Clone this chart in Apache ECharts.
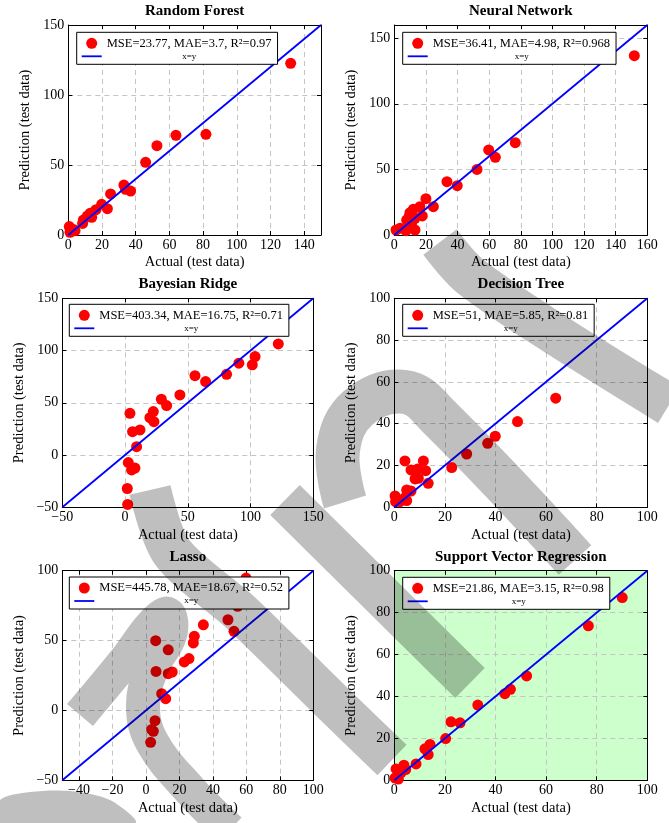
<!DOCTYPE html>
<html><head><meta charset="utf-8">
<script src="https://cdn.jsdelivr.net/npm/echarts@6/dist/echarts.min.js"></script>
<style>html,body{margin:0;padding:0;background:#fff}#c{width:669px;height:823px}</style>
</head><body><div id="c"></div>
<script>
// ---------- data ----------
const titles = ['Random Forest', 'Neural Network', 'Bayesian Ridge', 'Decision Tree', 'Lasso', 'Support Vector Regression'];
const metricLabels = [
  'MSE=23.77, MAE=3.7, R²=0.97',
  'MSE=36.41, MAE=4.98, R²=0.968',
  'MSE=403.34, MAE=16.75, R²=0.71',
  'MSE=51, MAE=5.85, R²=0.81',
  'MSE=445.78, MAE=18.67, R²=0.52',
  'MSE=21.86, MAE=3.15, R²=0.98'
];
const lineLabel = 'x=y';
const xLabel = 'Actual (test data)';
const yLabel = 'Prediction (test data)';

const rfActual = [132.0, 81.7, 63.9, 52.6, 45.9, 33.0, 34.0, 37.0, 25.1, 23.2, 19.8, 16.4, 12.9, 11.3, 13.9, 8.9, 8.5, 0.6, 3.0, 1.0, 4.0];
const rfPredicted = [122.6, 71.9, 71.2, 63.8, 51.9, 35.7, 32.6, 31.4, 29.3, 18.8, 21.9, 18.1, 15.5, 13.6, 12.6, 10.7, 8.3, 6.0, 4.0, 1.9, 3.1];

const nnActual = [151.8, 76.5, 59.7, 63.9, 52.3, 33.3, 39.8, 20.0, 24.7, 16.2, 12.0, 9.9, 9.3, 17.7, 13.1, 11.0, 7.8, 13.1, 7.4, 3.6, 1.1];
const nnPredicted = [136.6, 70.3, 64.8, 59.2, 50.0, 40.6, 37.6, 27.7, 21.6, 21.6, 19.6, 17.0, 14.0, 14.5, 12.7, 9.4, 11.4, 3.8, 3.3, 5.1, 3.8];

const brActual = [122.1, 103.6, 101.4, 90.7, 80.9, 64.2, 55.7, 43.7, 33.1, 28.9, 22.5, 19.8, 23.0, 3.9, 6.0, 11.9, 9.2, 2.6, 5.2, 7.9, 1.8, 2.1];
const brPredicted = [106.3, 94.2, 86.3, 87.9, 77.3, 70.3, 76.0, 57.5, 47.3, 53.4, 41.6, 35.8, 31.9, 39.9, 22.4, 24.0, 8.0, -7.2, -14.2, -12.5, -32.0, -47.3];

const dtActual = [63.8, 48.7, 39.9, 36.9, 28.6, 22.7, 4.2, 11.5, 6.6, 9.2, 12.4, 8.2, 9.5, 13.4, 4.9, 6.6, 4.9, 0.3, 0.5, 2.2, 4.2];
const dtPredicted = [52.2, 41.0, 34.0, 30.6, 25.5, 19.0, 22.2, 22.2, 17.9, 18.3, 17.5, 13.6, 13.9, 11.5, 8.3, 7.8, 3.2, 5.4, 2.7, 2.7, 4.6];

const lassoActual = [59.8, 54.8, 49.0, 52.6, 34.3, 28.9, 28.3, 25.7, 22.9, 15.7, 13.3, 13.3, 5.8, 6.0, 9.4, 11.8, 5.4, 3.4, 4.4, 2.8];
const lassoPredicted = [94.7, 74.5, 64.9, 56.6, 61.3, 53.0, 48.3, 37.1, 34.7, 27.5, 26.3, 43.4, 49.9, 27.9, 12.0, 8.4, -7.3, -13.7, -14.9, -22.8];

const svrActual = [90.1, 76.7, 52.3, 45.9, 43.7, 33.0, 26.0, 22.4, 20.3, 14.1, 12.1, 13.4, 8.6, 3.8, 4.5, 0.7, 2.6, 0.3, 1.6];
const svrPredicted = [87.2, 73.7, 49.8, 43.4, 41.3, 35.9, 27.4, 27.9, 19.9, 17.1, 15.0, 12.3, 7.8, 7.2, 5.1, 5.4, 3.5, 1.1, 0.6];

const xRanges = [[0, 150], [0, 160], [-50, 150], [0, 100], [-50, 100], [0, 100]];
const yRanges = [[0, 150], [0, 160], [-50, 150], [0, 100], [-50, 100], [0, 100]];
const xTicks = [
  [0, 20, 40, 60, 80, 100, 120, 140],
  [0, 20, 40, 60, 80, 100, 120, 140, 160],
  [-50, 0, 50, 100, 150],
  [0, 20, 40, 60, 80, 100],
  [-40, -20, 0, 20, 40, 60, 80, 100],
  [0, 20, 40, 60, 80, 100]
];
const yTicks = [
  [0, 50, 100, 150],
  [0, 50, 100, 150],
  [-50, 0, 50, 100, 150],
  [0, 20, 40, 60, 80, 100],
  [-50, 0, 50, 100],
  [0, 20, 40, 60, 80, 100]
];
const actualSets = [rfActual, nnActual, brActual, dtActual, lassoActual, svrActual];
const predictedSets = [rfPredicted, nnPredicted, brPredicted, dtPredicted, lassoPredicted, svrPredicted];

// ---------- layout / style ----------
const gridRects = [
  {left: 68.3, top: 25, width: 252.7, height: 210},
  {left: 394.3, top: 25, width: 253, height: 210},
  {left: 62.3, top: 298.3, width: 251, height: 209},
  {left: 394.3, top: 298.3, width: 253, height: 209},
  {left: 62.3, top: 570.7, width: 251, height: 209.6},
  {left: 394.3, top: 570.7, width: 253, height: 209.6}
];
const legendPos = [[76.7, 32.3], [402.7, 32.3], [69.3, 304.3], [402.7, 304.3], [69.3, 577], [402.7, 577.3]];
const gridBg = [null, null, null, null, null, '#ccffcc'];
const FONT = "'Liberation Serif','Times New Roman',serif";
const LEG_FS = 12.5;

// decorative "draft" watermark strokes drawn over the page (page pixels)
const WM = 'rgba(0,0,0,0.25)';
const watermarkStrokes = [
  {pts: [[440, 242], [470, 276], [555, 334], [669, 405]], w: 42, smooth: 0.3},
  {pts: [[345, 502], [338, 450], [358, 408], [405, 392], [440, 418], [575, 560]], w: 44, smooth: 0.4},
  {pts: [[285, 500], [470, 683]], w: 42, smooth: 0},
  {pts: [[150, 490], [172, 552], [240, 612], [335, 705], [392, 760]], w: 42, smooth: 0.3},
  {pts: [[80, 715], [128, 657], [152, 625], [168, 614], [170, 635], [152, 668], [143, 705], [152, 742], [190, 790], [230, 830]], w: 34, smooth: 0.4}
];
const watermarkFills = [
  [[0, 800], [30, 792], [70, 791], [110, 800], [135, 823], [0, 823]]
];

const measureCtx = document.createElement('canvas').getContext('2d');
measureCtx.font = LEG_FS + "px 'Liberation Serif'";

const fmt = v => String(v).replace('-', '\u2212');

const grid = [], xAxis = [], yAxis = [], series = [], title = [], legend = [];
for (let i = 0; i < 6; i++) {
  const g = gridRects[i];
  grid.push(Object.assign({containLabel: false, show: !!gridBg[i], backgroundColor: gridBg[i] || 'transparent', borderWidth: 0}, g));
  title.push({
    text: titles[i], left: g.left + g.width / 2, top: g.top - 21.5, textAlign: 'center', padding: 0,
    textStyle: {fontFamily: FONT, fontWeight: 'bold', fontSize: 15, color: '#000'}
  });
  const axisLine = {show: true, onZero: false, lineStyle: {color: '#000', width: 1}};
  const split = {show: true, lineStyle: {color: '#c4c4c4', width: 1, type: [5, 4]}};
  const lab = {color: '#000', fontSize: 14, fontFamily: FONT, formatter: fmt};
  const nameStyle = {fontFamily: FONT, fontSize: 14.5, color: '#000'};
  xAxis.push({
    gridIndex: i, type: 'value', min: xRanges[i][0], max: xRanges[i][1], position: 'bottom',
    axisLine, splitLine: split,
    axisTick: {show: true, inside: true, length: 4, customValues: xTicks[i], lineStyle: {color: '#000'}},
    axisLabel: Object.assign({customValues: xTicks[i], margin: 3}, lab),
    name: xLabel, nameLocation: 'middle', nameGap: 20, nameTextStyle: nameStyle
  });
  xAxis.push({
    gridIndex: i, type: 'value', min: xRanges[i][0], max: xRanges[i][1], position: 'top',
    axisLine, splitLine: {show: false}, axisLabel: {show: false},
    axisTick: {show: true, inside: true, length: 4, customValues: xTicks[i], lineStyle: {color: '#000'}}
  });
  yAxis.push({
    gridIndex: i, type: 'value', min: yRanges[i][0], max: yRanges[i][1], position: 'left',
    axisLine, splitLine: split,
    axisTick: {show: true, inside: true, length: 4, customValues: yTicks[i], lineStyle: {color: '#000'}},
    axisLabel: Object.assign({customValues: yTicks[i], margin: 4}, lab),
    name: yLabel, nameLocation: 'middle', nameRotate: 90, nameGap: 36, nameTextStyle: nameStyle
  });
  yAxis.push({
    gridIndex: i, type: 'value', min: yRanges[i][0], max: yRanges[i][1], position: 'right',
    axisLine, splitLine: {show: false}, axisLabel: {show: false},
    axisTick: {show: true, inside: true, length: 4, customValues: yTicks[i], lineStyle: {color: '#000'}}
  });
  const pts = actualSets[i].map((a, k) => [a, predictedSets[i][k]]);
  series.push({
    type: 'scatter', name: metricLabels[i], xAxisIndex: 2 * i, yAxisIndex: 2 * i,
    data: pts, symbol: 'circle', symbolSize: 11, itemStyle: {color: '#ff0000', opacity: 1}, z: 2
  });
  const lo = Math.max(xRanges[i][0], yRanges[i][0]);
  const hi = Math.min(xRanges[i][1], yRanges[i][1]);
  series.push({
    type: 'line', name: lineLabel, xAxisIndex: 2 * i, yAxisIndex: 2 * i,
    data: [[lo, lo], [hi, hi]], symbol: 'none', showSymbol: false,
    lineStyle: {color: '#0000ff', width: 1.8}, itemStyle: {color: '#0000ff'}, z: 3
  });
  const w = Math.ceil(measureCtx.measureText(metricLabels[i]).width);
  legend.push({
    left: legendPos[i][0], top: legendPos[i][1], orient: 'vertical', z: 10,
    padding: [4.5, 6, 3.5, 5], itemGap: 2, itemWidth: 20, itemHeight: 11,
    backgroundColor: '#fff', borderColor: '#000', borderWidth: 1, borderRadius: 0,
    selectedMode: false,
    data: [{name: metricLabels[i], icon: 'circle'}, {name: lineLabel, icon: 'path://M0,0H20V1.8H0Z'}],
    formatter: name => name === lineLabel ? '{s|' + name + '}' : '{b|' + name + '}',
    textStyle: {
      color: '#000', fontFamily: FONT,
      rich: {
        b: {fontSize: LEG_FS, fontFamily: FONT, color: '#000'},
        s: {fontSize: 9, fontFamily: FONT, color: '#000', width: w, align: 'center'}
      }
    }
  });
}

const graphic = [];
watermarkStrokes.forEach(s => graphic.push({
  type: 'polyline', silent: true, z: 100,
  shape: {points: s.pts, smooth: s.smooth},
  style: {stroke: WM, lineWidth: s.w, fill: null, lineCap: 'butt', lineJoin: 'round'}
}));
watermarkFills.forEach(p => graphic.push({
  type: 'polygon', silent: true, z: 100, shape: {points: p, smooth: 0.3}, style: {fill: WM}
}));

const chart = echarts.init(document.getElementById('c'));
chart.setOption({animation: false, backgroundColor: '#fff', title, grid, xAxis, yAxis, legend, series, graphic});
</script></body></html>
